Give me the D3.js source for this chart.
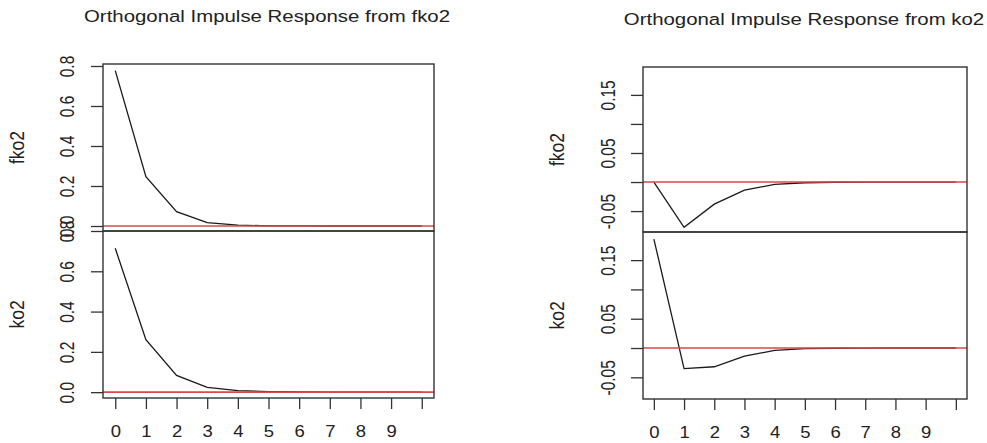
<!DOCTYPE html>
<html>
<head>
<meta charset="utf-8">
<script src="https://cdn.jsdelivr.net/npm/d3@7"></script>
<style>
  body { margin: 0; background: #fff; }
  text { font-family: "Liberation Sans", Arial, sans-serif; fill: #222; }
</style>
</head>
<body>
<div id="chart"></div>
<script>
'use strict';

// horizons 0..10
var steps = [0, 1, 2, 3, 4, 5, 6, 7, 8, 9, 10];
var xTickLabels = ['0', '1', '2', '3', '4', '5', '6', '7', '8', '9', ''];

// responses of fko2 and ko2 to an impulse in fko2
var fromFko2_fko2 = [0.777, 0.247, 0.072, 0.017, 0.004, 0.001, 0.0003, 0.0001, 0, 0, 0];
var fromFko2_ko2  = [0.714, 0.260, 0.083, 0.024, 0.008, 0.003, 0.001, 0.0003, 0.0001, 0, 0];

// responses of fko2 and ko2 to an impulse in ko2
var fromKo2_fko2 = [0, -0.078, -0.038, -0.014, -0.004, -0.0012, -0.0004, -0.0001, 0, 0, 0];
var fromKo2_ko2  = [0.186, -0.035, -0.032, -0.014, -0.004, -0.0012, -0.0004, -0.0001, 0, 0, 0];

var leftTicks  = [0, 0.2, 0.4, 0.6, 0.8];
var rightTicks = [-0.05, 0, 0.05, 0.10, 0.15];
var rightTickLabels = ['-0.05', '', '0.05', '', '0.15'];

var leftLimitsTop = [-0.025, 0.81];
var leftLimitsBot = [-0.029, 0.80];
var rightLimitsTop = [-0.086, 0.198];
var rightLimitsBot = [-0.087, 0.198];

var titles = ['Orthogonal Impulse Response from fko2', 'Orthogonal Impulse Response from ko2'];
var varNames = ['fko2', 'ko2'];

function irfPlot()
{
    var scope = this;
    scope.svg = undefined;

    scope.appendSvg = function(div)
    {
        return d3.select(div).append('svg')
            .attr('width', 987)
            .attr('height', 443);
    }

    scope.drawPanel = function(p)
    {
        var xScale = d3.scaleLinear().domain(p.xDomain).range([p.left, p.right]);
        var yScale = d3.scaleLinear().domain(p.yDomain).range([p.bottom, p.top]);

        var g = scope.svg.append('g');

        // y axis
        var yAxis = d3.axisLeft(yScale)
            .tickValues(p.yTicks)
            .tickSize(12)
            .tickFormat(function(d, i){ return p.yLabels[i]; });

        var ag = g.append('g')
            .attr('transform', 'translate(' + p.left + ',0)')
            .call(yAxis);
        ag.select('.domain').remove();
        ag.selectAll('line').attr('stroke', '#333').attr('stroke-width', 1.3);
        ag.selectAll('text')
            .attr('x', null).attr('dy', null)
            .attr('transform', 'translate(' + p.labelOffset + ',0) scale(1.25,1) rotate(-90)')
            .attr('text-anchor', 'middle')
            .attr('dominant-baseline', 'central')
            .style('font-size', '15.5px')
            .style('font-family', '"Liberation Sans", Arial, sans-serif')
            .attr('fill', '#222');

        // zero reference line, drawn after the response
        var line = d3.line()
            .x(function(d, i){ return xScale(steps[i]); })
            .y(function(d){ return yScale(d); });

        g.append('path')
            .datum(p.values)
            .attr('d', line)
            .attr('fill', 'none')
            .attr('stroke', '#1a1a1a')
            .attr('stroke-width', 1.3);

        g.append('line')
            .attr('x1', p.left).attr('x2', p.right)
            .attr('y1', yScale(0)).attr('y2', yScale(0))
            .attr('stroke', '#d84848')
            .attr('stroke-width', 1.6);

        g.append('rect')
            .attr('x', p.left).attr('y', p.top)
            .attr('width', p.right - p.left)
            .attr('height', p.bottom - p.top)
            .attr('fill', 'none')
            .attr('stroke', '#333')
            .attr('stroke-width', 1.4);

        // variable name
        g.append('text')
            .attr('transform', 'translate(' + p.nameX + ',' + ((p.top + p.bottom) / 2) + ') scale(1.2,1) rotate(-90)')
            .attr('text-anchor', 'middle')
            .attr('dominant-baseline', 'central')
            .style('font-size', '17.5px')
            .text(p.name);

        if (p.xAxis) {
            var xAxis = d3.axisBottom(xScale)
                .tickValues(steps)
                .tickSize(11)
                .tickFormat(function(d, i){ return xTickLabels[i]; });
            var xg = g.append('g')
                .attr('transform', 'translate(0,' + p.bottom + ')')
                .call(xAxis);
            xg.select('.domain').remove();
            xg.selectAll('line').attr('stroke', '#333').attr('stroke-width', 1.3);
            xg.selectAll('text')
                .attr('y', null).attr('dy', null)
                .attr('transform', 'translate(0,39) scale(1.12,1)')
                .attr('text-anchor', 'middle')
                .style('font-size', '16.5px')
                .style('font-family', '"Liberation Sans", Arial, sans-serif')
                .attr('fill', '#222');
        }
    }

    scope.drawTitle = function(txt, x, y)
    {
        scope.svg.append('text')
            .attr('transform', 'translate(' + x + ',' + y + ') scale(1.2,1)')
            .attr('text-anchor', 'middle')
            .style('font-size', '17px')
            .text(txt);
    }

    scope.run = function(div)
    {
        scope.svg = scope.appendSvg(div);

        var leftX = [-0.4, 10.4];
        var rightX = [-0.36, 10.37];

        scope.drawPanel({left: 103, right: 434, top: 64, bottom: 231, xDomain: leftX, yDomain: leftLimitsTop,
            yTicks: leftTicks, yLabels: leftTicks.map(function(d){ return d.toFixed(1); }),
            labelOffset: -36, values: fromFko2_fko2, name: varNames[0], nameX: 17, xAxis: false});
        scope.drawPanel({left: 103, right: 434, top: 231, bottom: 398, xDomain: leftX, yDomain: leftLimitsBot,
            yTicks: leftTicks, yLabels: leftTicks.map(function(d){ return d.toFixed(1); }),
            labelOffset: -36, values: fromFko2_ko2, name: varNames[1], nameX: 17, xAxis: true});

        scope.drawPanel({left: 643, right: 967, top: 67, bottom: 232, xDomain: rightX, yDomain: rightLimitsTop,
            yTicks: rightTicks, yLabels: rightTickLabels,
            labelOffset: -35, values: fromKo2_fko2, name: varNames[0], nameX: 557, xAxis: false});
        scope.drawPanel({left: 643, right: 967, top: 232, bottom: 399, xDomain: rightX, yDomain: rightLimitsBot,
            yTicks: rightTicks, yLabels: rightTickLabels,
            labelOffset: -35, values: fromKo2_ko2, name: varNames[1], nameX: 557, xAxis: true});

        scope.drawTitle(titles[0], 267, 22);
        scope.drawTitle(titles[1], 804, 25);
    }

    return scope;
}

var plot = new irfPlot();
plot.run('#chart');
</script>
</body>
</html>
